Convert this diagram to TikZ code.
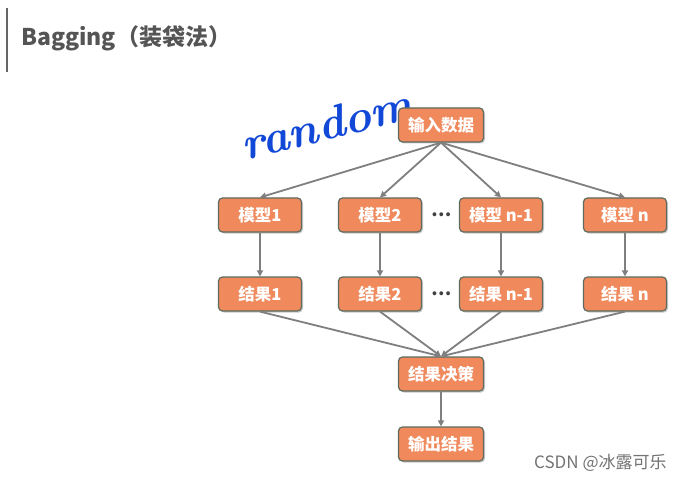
\documentclass[tikz,border=0pt]{standalone}
\usepackage{fontspec}
\newfontfamily\cjk{Noto Sans CJK SC}
\usetikzlibrary{arrows.meta,shadows}
\definecolor{boxfill}{HTML}{F08A5D}
\definecolor{boxedge}{HTML}{5E6B5E}
\definecolor{linegray}{HTML}{7F7F7F}
\definecolor{headgray}{HTML}{555555}
\definecolor{inkblue}{HTML}{1248D8}
\tikzset{
  boxnode/.style={draw=boxedge, line width=1.2pt, fill=boxfill, rounded corners=4pt,
    minimum width=83pt, minimum height=34pt, text=white, font=\cjk\bfseries\fontsize{16.5}{16.5}\selectfont,
    inner sep=2pt, drop shadow={shadow xshift=1.5pt, shadow yshift=-1.5pt, opacity=0.35, fill=black!60}},
  conn/.style={draw=linegray, line width=1.8pt, -{Triangle[length=6pt,width=6pt]}},
  dotsnode/.style={font=\cjk\bfseries\fontsize{18}{18}\selectfont, text=black!75, inner sep=0pt}
}
\begin{document}
\begin{tikzpicture}[x=1pt,y=-1pt]
\useasboundingbox (0,0) rectangle (685,481);
\fill[white] (0,0) rectangle (685,481);
% heading
\draw[headgray!90, line width=2.5pt] (7,8) -- (7,72);
\node[anchor=west, text=headgray, font=\cjk\bfseries\fontsize{23}{23}\selectfont, inner sep=0pt] (title) at (21,38) {Bagging（装袋法）};
% handwriting
\node[text=inkblue, rotate=14, font=\bfseries\itshape\fontsize{46}{46}\selectfont, inner sep=0pt] (rnd) at (327,124) {random};
% nodes
\node[boxnode, minimum width=85pt] (in) at (441,125) {输入数据};
\node[boxnode] (m1) at (260,215) {模型1};
\node[boxnode] (m2) at (380,215) {模型2};
\node[boxnode] (m3) at (501,215) {模型 n-1};
\node[boxnode] (m4) at (625,215) {模型 n};
\node[boxnode] (r1) at (260,294) {结果1};
\node[boxnode] (r2) at (380,294) {结果2};
\node[boxnode] (r3) at (501,294) {结果 n-1};
\node[boxnode] (r4) at (625,294) {结果 n};
\node[boxnode, minimum width=85pt] (dec) at (441,374) {结果决策};
\node[boxnode, minimum width=85pt] (out) at (441,444) {输出结果};
\node[dotsnode] (d1) at (442,215) {…};
\node[dotsnode] (d2) at (442,294) {…};
% connectors
\foreach \m in {m1,m2,m3,m4} \draw[conn] (in.south) -- (\m.north);
\draw[conn] (m1) -- (r1);
\draw[conn] (m2) -- (r2);
\draw[conn] (m3) -- (r3);
\draw[conn] (m4) -- (r4);
\foreach \r in {r1,r2,r3,r4} \draw[conn] (\r.south) -- (dec.north);
\draw[conn] (dec) -- (out);
% watermark
\node[anchor=west, text=black!55, font=\cjk\fontsize{17}{17}\selectfont, inner sep=0pt] (wm) at (534,463) {CSDN @冰露可乐};
\end{tikzpicture}
\end{document}
